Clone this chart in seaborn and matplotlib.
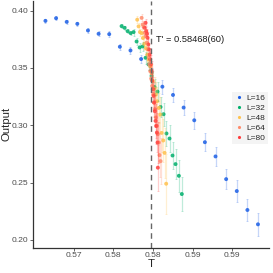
#Crossing of network output for different system sizes L
import numpy as np
import pandas as pd
import matplotlib
matplotlib.use("Agg")
import matplotlib.pyplot as plt
import seaborn as sns

# L = 16
T16 = [0.57143, 0.57277, 0.57411, 0.57545, 0.57679, 0.57813, 0.57947, 0.58081, 0.58215, 0.58349, 0.58483,
       0.58617, 0.58751, 0.58885, 0.59019, 0.59153, 0.59287, 0.59421, 0.59555, 0.59689, 0.59822]
out16 = [0.3910, 0.3933, 0.3901, 0.3884, 0.3826, 0.3797, 0.3794, 0.3684, 0.3652, 0.3577, 0.3460,
         0.3336, 0.3264, 0.3154, 0.3043, 0.2852, 0.2728, 0.2530, 0.2426, 0.2261, 0.2136]
err16 = [0.0015, 0.0015, 0.0015, 0.0018, 0.002, 0.0022, 0.0025, 0.0028, 0.003, 0.0035, 0.004,
         0.006, 0.006, 0.0065, 0.0075, 0.008, 0.0085, 0.009, 0.0095, 0.01, 0.01]

# L = 32
T32 = [0.58103, 0.58141, 0.58179, 0.58217, 0.58254, 0.58292, 0.58330, 0.58368, 0.58405, 0.58443, 0.58481,
       0.58518, 0.58556, 0.58594, 0.58632, 0.58669, 0.58707, 0.58745, 0.58783, 0.58825, 0.58862]
out32 = [0.3864, 0.3849, 0.3820, 0.3803, 0.3812, 0.3730, 0.3678, 0.3687, 0.3588, 0.3530, 0.3430,
         0.3333, 0.3293, 0.3159, 0.3096, 0.2928, 0.2884, 0.2736, 0.2661, 0.2559, 0.2400]
err32 = [0.002, 0.002, 0.002, 0.002, 0.003, 0.003, 0.004, 0.004, 0.005, 0.005, 0.006,
         0.007, 0.008, 0.009, 0.010, 0.011, 0.012, 0.012, 0.013, 0.014, 0.015]

# L = 48
T48 = [0.58300, 0.58317, 0.58334, 0.58355, 0.58372, 0.58388, 0.58409, 0.58426, 0.58443, 0.58464, 0.58481,
       0.58497, 0.58518, 0.58535, 0.58552, 0.58573, 0.58590, 0.58607, 0.58628, 0.58645, 0.58665]
out48 = [0.3920, 0.3862, 0.3812, 0.3803, 0.3760, 0.3708, 0.3672, 0.3614, 0.3571, 0.3513, 0.3455,
         0.3383, 0.3319, 0.3267, 0.3209, 0.3151, 0.3093, 0.2933, 0.2867, 0.2759, 0.2490]
err48 = [0.003, 0.003, 0.003, 0.004, 0.004, 0.005, 0.005, 0.006, 0.006, 0.007, 0.008,
         0.009, 0.010, 0.011, 0.012, 0.013, 0.015, 0.017, 0.019, 0.022, 0.026]

# L = 64
T64 = [0.58355, 0.58368, 0.58380, 0.58393, 0.58405, 0.58418, 0.58430, 0.58443, 0.58451, 0.58464, 0.58476,
       0.58489, 0.58501, 0.58510, 0.58522, 0.58535, 0.58548, 0.58560, 0.58573, 0.58581, 0.58594]
out64 = [0.3936, 0.3878, 0.3858, 0.3806, 0.3777, 0.3720, 0.3662, 0.3589, 0.3531, 0.3473, 0.3407,
         0.3343, 0.3270, 0.3197, 0.3139, 0.3067, 0.2994, 0.2922, 0.2849, 0.2739, 0.2687]
err64 = [0.003, 0.003, 0.004, 0.004, 0.005, 0.005, 0.006, 0.006, 0.007, 0.008, 0.009,
         0.010, 0.011, 0.012, 0.013, 0.014, 0.015, 0.016, 0.018, 0.019, 0.020]

# L = 80
T80 = [0.58393, 0.58405, 0.58414, 0.58422, 0.58430, 0.58439, 0.58447, 0.58456, 0.58464, 0.58472, 0.58481,
       0.58489, 0.58497, 0.58506, 0.58514, 0.58522, 0.58531, 0.58539, 0.58548, 0.58556, 0.58560]
out80 = [0.3849, 0.3893, 0.3820, 0.3797, 0.3762, 0.3704, 0.3661, 0.3617, 0.3574, 0.3530, 0.3472,
         0.3388, 0.3314, 0.3256, 0.3198, 0.3122, 0.3038, 0.2994, 0.2936, 0.2849, 0.2630]
err80 = [0.003, 0.003, 0.004, 0.004, 0.005, 0.005, 0.006, 0.006, 0.007, 0.008, 0.009,
         0.010, 0.011, 0.012, 0.013, 0.014, 0.015, 0.016, 0.017, 0.018, 0.020]

T_cross = 0.58468
sizes = ["L=16", "L=32", "L=48", "L=64", "L=80"]
colors = ["#1c5fe6", "#00b06c", "#ffc24f", "#ff8c6c", "#ff3c3c"]

df = pd.DataFrame({
    "T": T16 + T32 + T48 + T64 + T80,
    "Output": out16 + out32 + out48 + out64 + out80,
    "err": err16 + err32 + err48 + err64 + err80,
    "L": [s for s in sizes for _ in range(21)],
})

sns.set_style("white")
plt.rcParams["font.family"] = ["Liberation Sans", "DejaVu Sans"]

fig = plt.figure(figsize=(2.73, 2.73), dpi=100)
ax = fig.add_axes([0.122, 0.093, 0.863, 0.905])

# error bars first, faint
for name, col in zip(sizes, colors):
    sub = df[df["L"] == name]
    ax.errorbar(sub["T"], sub["Output"], yerr=sub["err"], fmt="none",
                ecolor=col, alpha=0.25, elinewidth=0.9, capsize=0.8, capthick=0.6)

sns.scatterplot(data=df, x="T", y="Output", hue="L", palette=colors, hue_order=sizes,
                s=8, marker="o", linewidth=0, alpha=0.85, ax=ax)

ax.axvline(T_cross, color="#666666", linestyle=(0, (4, 3)), linewidth=1)
ax.text(0.58535, 0.375, "T' = 0.58468(60)", fontsize=6.7, color="#1a1a1a", va="center")

ax.set_xlim(0.5699, 0.5996)
ax.set_ylim(0.1933, 0.4087)
ax.set_xticks([0.575, 0.58, 0.585, 0.59, 0.595])
ax.set_xticklabels(["%.2f" % v for v in [0.575, 0.58, 0.585, 0.59, 0.595]])
ax.set_yticks([0.20, 0.25, 0.30, 0.35, 0.40])
ax.set_yticklabels(["%.2f" % v for v in [0.20, 0.25, 0.30, 0.35, 0.40]])
ax.tick_params(axis="both", labelsize=6.1, labelcolor="#4d4d4d", color="#4d4d4d",
               length=2, width=0.6, pad=1.5, left=True, bottom=True)
ax.set_xlabel("T", fontsize=8.2, labelpad=0)
ax.set_ylabel("Output", fontsize=8.2)
ax.yaxis.set_label_coords(-0.094, 0.5)

sns.despine(ax=ax)
for sp in ["left", "bottom"]:
    ax.spines[sp].set_color("#333333")
    ax.spines[sp].set_linewidth(0.9)

leg = ax.legend(loc="upper left", bbox_to_anchor=(0.845, 0.63), fontsize=6, frameon=True,
                facecolor="#f2f2f2", edgecolor="none", markerscale=0.8, handletextpad=0.4,
                borderpad=0.3, labelspacing=0.25, handlelength=1, borderaxespad=0, fancybox=False)
for lh in leg.legend_handles:
    lh.set_alpha(1)

fig.savefig("out.png", dpi=100)
